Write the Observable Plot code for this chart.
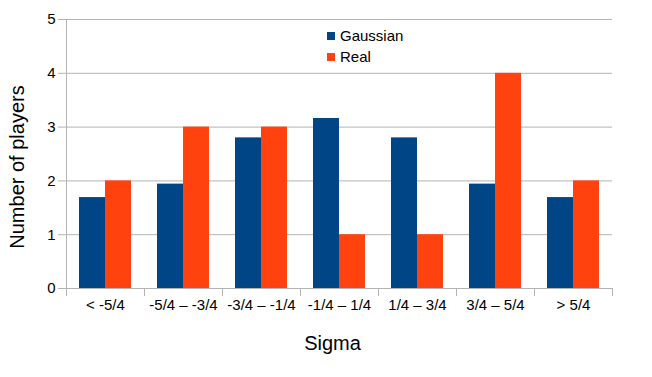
<!DOCTYPE html>
<html><head><meta charset="utf-8">
<script src="https://cdn.jsdelivr.net/npm/d3@7"></script>
<script src="https://cdn.jsdelivr.net/npm/@observablehq/plot@0.6"></script>
<style>
body{margin:0;background:#fff;font-family:"Liberation Sans",Arial,sans-serif}
#wrap{position:relative;width:652px;height:377px}
.legend{position:absolute;left:327px;top:25px;font-size:15px;line-height:21px;color:#000}
.sw{display:inline-block;width:8px;height:8px;margin-right:5px;vertical-align:1px}
</style></head><body><div id="wrap"></div>
<script>
const categories = ["< -5/4","-5/4 – -3/4","-3/4 – -1/4","-1/4 – 1/4","1/4 – 3/4","3/4 – 5/4","> 5/4"];
const seriesNames = ["Gaussian","Real"];
const gaussian = [1.69,1.94,2.8,3.16,2.8,1.94,1.69];
const real = [2,3,3,1,1,4,2];
const yTicks = [0,1,2,3,4,5];
const colors = ["#004586","#ff420e"];
const xTitle = "Sigma";
const yTitle = "Number of players";

const gData = categories.map((c,i)=>({cat:c, value:gaussian[i], series:seriesNames[0]}));
const rData = categories.map((c,i)=>({cat:c, value:real[i], series:seriesNames[1]}));
const grid = "#b3b3b3";

const chart = Plot.plot({
  width: 652, height: 377,
  marginLeft: 66, marginRight: 40, marginTop: 19, marginBottom: 89,
  style: {fontFamily: '"Liberation Sans", Arial, sans-serif', fontSize: "15px", color: "#000", background: "#fff"},
  x: {domain: categories, padding: 0, axis: null},
  y: {domain: [0,5], axis: null},
  color: {domain: seriesNames, range: colors},
  marks: [
    Plot.gridY(yTicks, {stroke: grid, strokeOpacity: 1}),
    Plot.ruleX([categories[0]], {x: d=>d, dx: -39, stroke: grid}),
    Plot.ruleY([0], {stroke: grid}),
    Plot.axisY(yTicks, {tickSize: 8, tickPadding: 3, stroke: grid, fill: "#000", fontSize: 15, label: null, tickFormat: d3.format("d")}),
    Plot.axisX(categories, {tickSize: 8, dx: -39, stroke: grid, tickFormat: () => "", label: null}),
    Plot.axisX([categories[categories.length-1]], {tickSize: 8, dx: 39, stroke: grid, tickFormat: () => "", label: null}),
    Plot.axisX(categories, {tickSize: 0, tickPadding: 11, fill: "#000", fontSize: 15, label: null}),
    Plot.barY(gData, {x: "cat", y: "value", fill: "series", insetLeft: 13, insetRight: 39}),
    Plot.barY(rData, {x: "cat", y: "value", fill: "series", insetLeft: 39, insetRight: 13}),
    Plot.text([xTitle], {frameAnchor: "bottom", dy: 61, dx: -7, fontSize: 20, fill: "#000"}),
    Plot.text([yTitle], {frameAnchor: "left", textAnchor: "middle", rotate: -90, dx: -49, dy: 13, fontSize: 20, fill: "#000"})
  ]
});
const wrap = document.getElementById("wrap");
wrap.appendChild(chart);
const leg = document.createElement("div");
leg.className = "legend";
seriesNames.forEach((s,i)=>{
  const row = document.createElement("div");
  const sw = document.createElement("span");
  sw.className = "sw"; sw.style.background = colors[i];
  row.appendChild(sw);
  row.appendChild(document.createTextNode(s));
  leg.appendChild(row);
});
wrap.appendChild(leg);
</script>
</body></html>
